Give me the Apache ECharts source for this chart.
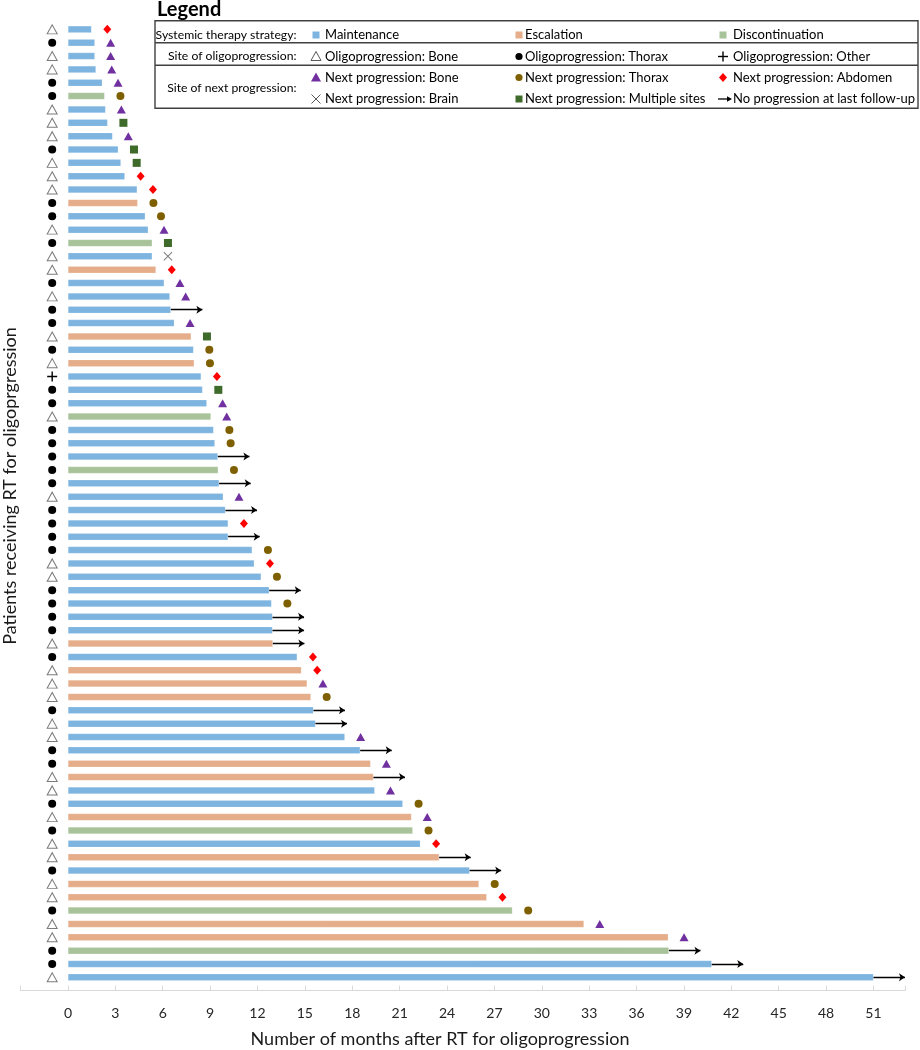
<!DOCTYPE html>
<html>
<head>
<meta charset="utf-8">
<script src="https://cdn.jsdelivr.net/npm/echarts@6/dist/echarts.min.js"></script>
<style>
html,body{margin:0;padding:0;background:#fff;}
#chart{width:920px;height:1050px;}
</style>
</head>
<body>
<div id="chart"></div>
<script>
// ---- Data (rows listed top to bottom) ----
const months = [1.49,1.70,1.70,1.77,2.17,2.32,2.38,2.51,2.82,3.18,
  3.35,3.60,4.38,4.41,4.89,5.08,5.33,5.33,5.57,6.09,
  6.45,6.51,6.73,7.80,7.95,7.99,8.43,8.52,8.79,9.05,
  9.22,9.30,9.49,9.51,9.57,9.83,9.97,10.14,10.14,11.66,
  11.79,12.23,12.74,12.89,12.95,12.95,12.97,14.51,14.78,15.14,
  15.38,15.54,15.67,17.53,18.50,19.16,19.34,19.42,21.20,21.75,
  21.83,22.31,23.50,25.43,26.02,26.51,28.14,32.67,38.01,38.05,40.76,51.00];
// M = Maintenance, E = Escalation, D = Discontinuation
const strategy = ['M','M','M','M','M','D','M','M','M','M',
  'M','M','M','E','M','M','D','M','E','M',
  'M','M','M','E','M','E','M','M','M','D',
  'M','M','M','D','M','M','M','M','M','M',
  'M','M','M','M','M','M','E','M','E','E',
  'E','M','M','M','M','E','E','M','M','E',
  'D','M','E','M','E','E','D','E','E','D','M','M'];
// B = Bone, T = Thorax, O = Other
const oligoSite = ['B','T','B','B','T','T','B','B','B','T',
  'B','B','B','T','T','B','T','B','B','T',
  'B','T','T','B','T','B','O','T','T','B',
  'T','T','T','T','T','B','T','T','T','T',
  'B','B','T','T','T','T','B','T','B','B',
  'B','T','B','B','T','T','B','B','T','B',
  'T','B','B','T','B','B','T','B','B','T','T','B'];
// Bone, Thorax, Abdomen, Brain, Multiple, None (no progression at last follow-up)
const nextSite = ['Abdomen','Bone','Bone','Bone','Bone','Thorax','Bone','Multiple','Bone','Multiple',
  'Multiple','Abdomen','Abdomen','Thorax','Thorax','Bone','Multiple','Brain','Abdomen','Bone',
  'Bone','None','Bone','Multiple','Thorax','Thorax','Abdomen','Multiple','Bone','Bone',
  'Thorax','Thorax','None','Thorax','None','Bone','None','Abdomen','None','Thorax',
  'Abdomen','Thorax','None','Thorax','None','None','None','Abdomen','Abdomen','Bone',
  'Thorax','None','None','Bone','None','Bone','None','Bone','Thorax','Bone',
  'Thorax','Abdomen','None','None','Thorax','Abdomen','Thorax','Bone','Bone','None','None','None'];
const xTicks = [0,3,6,9,12,15,18,21,24,27,30,33,36,39,42,45,48,51];
const xTitle = 'Number of months after RT for oligoprogression';
const yTitle = 'Patients receiving RT for oligoprgression';

// ---- Styling ----
const FONT = 'Lato, "Liberation Sans", sans-serif';
const strategyColor = {M:'#7DB4E0', E:'#E5AD89', D:'#A8C39A'};
const MARK_OFFSET = 1;   // next-progression marker drawn one month after the bar end
const ARROW_LEN = 2;     // arrow length in months
const OLIGO_X = -1;      // column where the oligoprogression marker sits
const plusPath = 'path://M4.3,0H5.7V4.3H10V5.7H5.7V10H4.3V5.7H0V4.3H4.3Z';
const crossPath = 'path://M0,0.8L0.8,0L5,4.2L9.2,0L10,0.8L5.8,5L10,9.2L9.2,10L5,5.8L0.8,10L0,9.2L4.2,5Z';

const nRows = months.length;
const cats = [];
for (let i = 0; i <= nRows + 1; i++) cats.push('r' + i);

const barData = [null];
months.forEach((m, i) => barData.push({value: m, itemStyle: {color: strategyColor[strategy[i]]}}));
barData.push(null);

function oligoPts(code) {
  const out = [];
  oligoSite.forEach((s, i) => { if (s === code) out.push([OLIGO_X, i + 1]); });
  return out;
}
function nextPts(code) {
  const out = [];
  nextSite.forEach((s, i) => { if (s === code) out.push([months[i] + MARK_OFFSET, i + 1]); });
  return out;
}
const arrowData = [];
nextSite.forEach((s, i) => {
  if (s === 'None') arrowData.push({coords: [[months[i], i + 1], [months[i] + ARROW_LEN, i + 1]]});
});

const sc = (name, data, symbol, size, color, extra) => Object.assign({
  type: 'scatter', name, data, symbol, symbolSize: size, z: 5,
  itemStyle: {color, opacity: 1}, emphasis: {disabled: true}, silent: true
}, extra || {});

// ---- Legend graphics ----
const LG = {
  left: 155, right: 918, top: 20.7, bottom: 108.3, lines: [42.7, 65.3],
  labelRight: 296.5, labelY: [35, 56.5, 88.5],
  symX: [316, 519, 723], textX: [325, 525, 733], rowY: [35, 56.5, 77.5, 99]
};
const legendItems = [
  {r:0,c:0,sym:'sq',color:strategyColor.M,text:'Maintenance'},
  {r:0,c:1,sym:'sq',color:strategyColor.E,text:'Escalation'},
  {r:0,c:2,sym:'sq',color:strategyColor.D,text:'Discontinuation'},
  {r:1,c:0,sym:'otri',text:'Oligoprogression: Bone'},
  {r:1,c:1,sym:'circ',color:'#000',text:'Oligoprogression: Thorax'},
  {r:1,c:2,sym:'plus',text:'Oligoprogression: Other'},
  {r:2,c:0,sym:'tri',color:'#7030A0',text:'Next progression: Bone'},
  {r:2,c:1,sym:'circ',color:'#7F6000',text:'Next progression: Thorax'},
  {r:2,c:2,sym:'dia',color:'#FF0000',text:'Next progression: Abdomen'},
  {r:3,c:0,sym:'x',text:'Next progression: Brain'},
  {r:3,c:1,sym:'sq',color:'#3E6A2A',text:'Next progression: Multiple sites'},
  {r:3,c:2,sym:'arrow',text:'No progression at last follow-up'}
];
const rowLabels = ['Systemic therapy strategy:', 'Site of oligoprogression:', 'Site of next progression:'];

const g = [];
g.push({type:'text', left:157, top:0, style:{text:'Legend', font:'bold 20px ' + FONT, fill:'#000'}});
g.push({type:'rect', shape:{x:LG.left, y:LG.top, width:LG.right-LG.left, height:LG.bottom-LG.top},
  style:{fill:'#fff', stroke:'#404040', lineWidth:1.4}});
LG.lines.forEach(y => g.push({type:'line', shape:{x1:LG.left, y1:y, x2:LG.right, y2:y}, style:{stroke:'#404040', lineWidth:1.4}}));
rowLabels.forEach((t, i) => g.push({type:'text', x:LG.labelRight, y:LG.labelY[i],
  style:{text:t, font:'12.2px ' + FONT, fill:'#000', align:'right', verticalAlign:'middle'}}));
legendItems.forEach(it => {
  const x = LG.symX[it.c], y = LG.rowY[it.r];
  let el;
  switch (it.sym) {
    case 'sq': el = {type:'rect', shape:{x:x-3.5, y:y-3.5, width:7, height:7}, style:{fill:it.color}}; break;
    case 'otri': el = {type:'polygon', shape:{points:[[x,y-5],[x+5,y+4],[x-5,y+4]]}, style:{fill:'#fff', stroke:'#595959', lineWidth:1}}; break;
    case 'tri': el = {type:'polygon', shape:{points:[[x,y-5],[x+5,y+4],[x-5,y+4]]}, style:{fill:it.color}}; break;
    case 'circ': el = {type:'circle', shape:{cx:x, cy:y, r:3.6}, style:{fill:it.color}}; break;
    case 'dia': el = {type:'polygon', shape:{points:[[x,y-4.5],[x+4,y],[x,y+4.5],[x-4,y]]}, style:{fill:it.color}}; break;
    case 'plus': el = {type:'group', children:[
      {type:'line', shape:{x1:x-5,y1:y,x2:x+5,y2:y}, style:{stroke:'#000',lineWidth:1.4}},
      {type:'line', shape:{x1:x,y1:y-5,x2:x,y2:y+5}, style:{stroke:'#000',lineWidth:1.4}}]}; break;
    case 'x': el = {type:'group', children:[
      {type:'line', shape:{x1:x-4.5,y1:y-4.5,x2:x+4.5,y2:y+4.5}, style:{stroke:'#595959',lineWidth:1}},
      {type:'line', shape:{x1:x-4.5,y1:y+4.5,x2:x+4.5,y2:y-4.5}, style:{stroke:'#595959',lineWidth:1}}]}; break;
    case 'arrow': el = {type:'group', children:[
      {type:'line', shape:{x1:x-5,y1:y,x2:x+6,y2:y}, style:{stroke:'#000',lineWidth:1.3}},
      {type:'polygon', shape:{points:[[x+9,y],[x+4,y-2.8],[x+4,y+2.8]]}, style:{fill:'#000'}}]}; break;
  }
  g.push(el);
  g.push({type:'text', x:LG.textX[it.c], y:y, style:{text:it.text, font:'13px ' + FONT, fill:'#000', verticalAlign:'middle'}});
});
// Axis titles
g.push({type:'text', x:440, y:1039, style:{text:xTitle, font:'18px ' + FONT, fill:'#1a1a1a', align:'center', verticalAlign:'middle'}});
g.push({type:'text', x:10, y:486, rotation:Math.PI/2, style:{text:yTitle, font:'18px ' + FONT, fill:'#1a1a1a', align:'center', verticalAlign:'middle'}});

// ---- Chart ----
const chart = echarts.init(document.getElementById('chart'), null, {renderer:'canvas'});
chart.setOption({
  animation: false,
  backgroundColor: '#fff',
  textStyle: {fontFamily: FONT},
  grid: {left: 20.6, right: 15, top: 16, bottom: 59.3, containLabel: false, outerBoundsMode: 'none'},
  xAxis: {
    type: 'value', min: -3, max: 53, interval: 3,
    axisLine: {show: true, lineStyle: {color: '#D9D9D9', width: 1.2}},
    axisTick: {show: true, inside: true, length: 5, lineStyle: {color: '#D9D9D9'}},
    axisLabel: {margin: 16, fontSize: 14, color: '#262626', fontFamily: FONT,
      formatter: v => xTicks.indexOf(v) >= 0 ? String(v) : ''},
    splitLine: {show: false}
  },
  yAxis: {
    type: 'category', inverse: true, boundaryGap: false, data: cats,
    axisLine: {show: false}, axisTick: {show: false}, axisLabel: {show: false},
    splitLine: {show: false}
  },
  series: [
    {type: 'bar', data: barData, barWidth: 7, silent: true, z: 2,
      itemStyle: {borderColor: 'rgba(255,255,255,0.35)', borderWidth: 0.5}},
    {type: 'lines', coordinateSystem: 'cartesian2d', data: arrowData, silent: true, z: 4,
      symbol: ['none', 'arrow'], symbolSize: [0, 6],
      lineStyle: {color: '#000', width: 1.3, opacity: 1}},
    sc('Oligo Bone', oligoPts('B'), 'triangle', [10, 9], '#fff', {itemStyle: {color: '#fff', borderColor: '#595959', borderWidth: 1}}),
    sc('Oligo Thorax', oligoPts('T'), 'circle', 8, '#000'),
    sc('Oligo Other', oligoPts('O'), plusPath, 10, '#000'),
    sc('Next Bone', nextPts('Bone'), 'triangle', [9, 8], '#7030A0'),
    sc('Next Thorax', nextPts('Thorax'), 'circle', 8, '#7F6000'),
    sc('Next Abdomen', nextPts('Abdomen'), 'diamond', [8, 9], '#FF0000'),
    sc('Next Brain', nextPts('Brain'), crossPath, 9, '#7F7F7F'),
    sc('Next Multiple', nextPts('Multiple'), 'rect', 8, '#3E6A2A')
  ],
  graphic: g
});
</script>
</body>
</html>
